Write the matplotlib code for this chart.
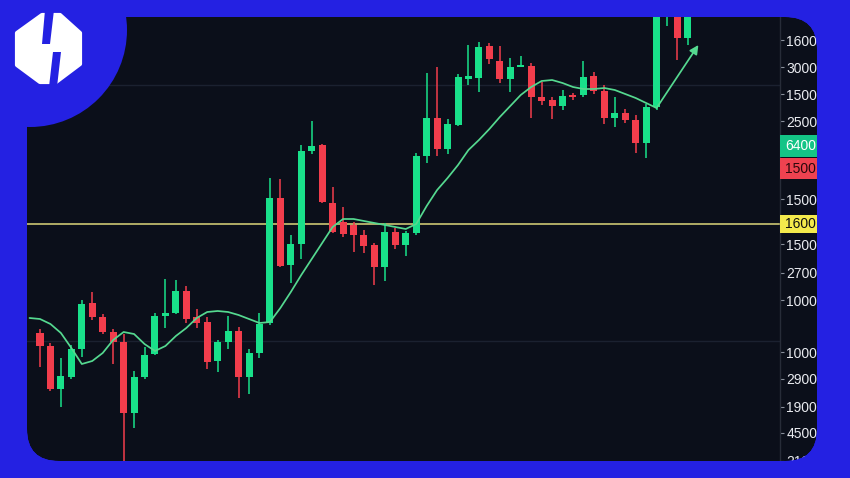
import matplotlib
matplotlib.use("Agg")
import matplotlib.pyplot as plt
import matplotlib.transforms as mtransforms
from matplotlib.patches import FancyBboxPatch, Circle, Polygon, Rectangle, PathPatch
from matplotlib.path import Path
import numpy as np

plt.rcParams['font.family'] = ['Liberation Sans', 'DejaVu Sans']

# ---------------- data (price units) ----------------
opens = [147, 134, 91, 103, 131, 177, 163, 148, 138, 67, 103, 126, 164, 167, 189, 163,
         158, 119, 138, 149, 103, 127, 157, 282, 215, 236, 329, 335, 277, 258, 255, 245,
         235, 213, 248, 235, 247, 324, 362, 331, 355, 401, 402, 434, 419, 401, 413, 414,
         383, 380, 374, 385, 385, 404, 389, 362, 367, 360, 337, 373, 467, 520, 442]
highs = [151, 137, 122, 135, 180, 188, 166, 151, 146, 109, 133, 167, 201, 200, 194, 171,
         163, 140, 164, 153, 131, 167, 302, 301, 245, 335, 359, 336, 293, 273, 258, 250,
         237, 257, 252, 249, 327, 407, 413, 361, 406, 435, 438, 437, 434, 422, 424, 417,
         398, 383, 390, 387, 419, 408, 395, 383, 371, 365, 376, 540, 540, 540, 540]
lows = [113, 89, 73, 101, 123, 160, 146, 116, 15, 52, 101, 125, 152, 166, 157, 152,
        111, 108, 131, 82, 86, 122, 155, 213, 197, 221, 326, 277, 247, 243, 228, 227,
        195, 199, 231, 224, 245, 317, 324, 326, 354, 395, 388, 416, 397, 388, 413, 362,
        375, 361, 370, 380, 383, 386, 356, 353, 357, 327, 322, 370, 454, 420, 435]
closes = [134, 91, 104, 131, 176, 163, 148, 138, 67, 103, 125, 164, 167, 189, 161, 157,
          118, 138, 149, 103, 127, 156, 282, 214, 236, 329, 334, 278, 248, 246, 245, 234,
          213, 248, 235, 247, 324, 362, 331, 356, 403, 404, 433, 421, 401, 413, 415, 383,
          379, 374, 384, 383, 403, 389, 362, 367, 360, 337, 373, 500, 520, 442, 520]

# moving average, starting one bar before the first candle
ma_start = -1
ma_values = [162, 161, 156, 147, 132, 116, 119, 127, 140, 148, 146, 136, 129, 134, 144,
             152, 162, 168, 169, 168, 165, 161, 157, 158, 172, 188, 205, 221, 237, 253,
             261, 261, 259, 257, 255, 253, 251, 256, 274, 290, 302, 315, 330, 340, 351,
             363, 374, 385, 393, 399, 400, 397, 393, 391, 391, 392, 390, 386, 382, 377, 372]
arrow_end = (63.0, 435)

tick_values = [440, 413, 386, 359, 281, 236, 207, 180, 128, 101, 73, 47, 19]
tick_labels = ['1600', '3000', '1500', '2500', '1500', '1500', '2700', '1000',
               '1000', '2900', '1900', '4500', '2100']

marker_values = [334, 311.5, 256]
marker_labels = ['6400', '1500', '1600']
level_value = 256
grid_values = [395, 139]

# ---------------- style ----------------
BLUE = '#2421e2'
PANEL = '#0b0f1a'
GREEN = '#19e08a'
RED = '#f23d4c'
MA_COLOR = '#55d990'
W, H = 850, 478

fig = plt.figure(figsize=(8.5, 4.78), dpi=100)
fig.patch.set_facecolor(BLUE)

bg = fig.add_axes([0, 0, 1, 1], zorder=0)
bg.set_xlim(0, W)
bg.set_ylim(H, 0)
bg.axis('off')
R = 32
panel = FancyBboxPatch((27 + R, 17 + R), 817 - 27 - 2 * R, 461 - 17 - 2 * R,
                       boxstyle=f'round,pad={R}', fc=PANEL, ec='none')
bg.add_patch(panel)

# chart axes
ax = fig.add_axes([27 / W, (H - 461) / H, (780 - 27) / W, (461 - 17) / H], zorder=1)
ax.set_facecolor('none')
ax.set_xlim(-1.244, 70.81)
ax.set_ylim(19, 463)
for s in ['left', 'top', 'bottom']:
    ax.spines[s].set_visible(False)
ax.spines['right'].set_color('#272c38')
ax.spines['right'].set_linewidth(1.0)
ax.set_xticks([])

for g in grid_values:
    ax.axhline(g, color='#1b2130', lw=1.0, zorder=0.5)

idx = np.arange(len(opens))
o = np.array(opens, float)
c = np.array(closes, float)
colors = [GREEN if cc >= oo else RED for oo, cc in zip(o, c)]
bottoms = np.minimum(o, c)
heights = np.maximum(np.abs(c - o), 1.5)
ax.vlines(idx, lows, highs, colors=colors, lw=1.1, zorder=2)
ax.bar(idx, heights, bottom=bottoms, width=0.67, color=colors, zorder=3, linewidth=0)

ma_x = np.arange(len(ma_values)) + ma_start
ax.plot(ma_x, ma_values, color=MA_COLOR, lw=1.25, zorder=4, solid_capstyle='round')
ax.annotate('', xy=arrow_end, xytext=(ma_x[-1], ma_values[-1]),
            arrowprops=dict(arrowstyle='-|>', color=MA_COLOR, lw=1.25,
                            mutation_scale=13, shrinkA=0, shrinkB=0), zorder=4)

ax.axhline(level_value, color='#dcd67a', lw=1.1, zorder=1.5)

ax.yaxis.tick_right()
ax.set_yticks(tick_values)
ax.set_yticklabels(tick_labels)
ax.tick_params(axis='y', direction='out', length=3, width=0.8, color='#8a909c',
               pad=1.5, labelsize=10, labelcolor='#e9ebf0')

trans = mtransforms.blended_transform_factory(ax.transAxes, ax.transData)
box_colors = ['#14c486', '#ee4250', '#f4ea4c']
text_colors = ['#ffffff', '#2a080c', '#111111']
box_heights = [22, 21, 18]
for v, lab, bc, tc, bh in zip(marker_values, marker_labels, box_colors, text_colors, box_heights):
    rect = Rectangle((1.0, v - bh / 2), 50 / 753, bh, transform=trans, fc=bc, ec='none',
                     zorder=5, clip_on=False)
    ax.add_artist(rect)
    ax.text(1.0 + 5 / 753, v, lab, transform=trans, ha='left', va='center',
            color=tc, fontsize=10, zorder=6)

# overlay: blue frame outside the rounded panel, corner badge with logo
ov = fig.add_axes([0, 0, 1, 1], zorder=3)
ov.set_xlim(0, W)
ov.set_ylim(H, 0)
ov.axis('off')
ov.patch.set_alpha(0)

inner = panel.get_path().to_polygons()[0]
outer = np.array([[-5, -5], [W + 5, -5], [W + 5, H + 5], [-5, H + 5], [-5, -5]], float)
area = 0.5 * np.sum(inner[:-1, 0] * inner[1:, 1] - inner[1:, 0] * inner[:-1, 1])
area_o = 0.5 * np.sum(outer[:-1, 0] * outer[1:, 1] - outer[1:, 0] * outer[:-1, 1])
if np.sign(area) == np.sign(area_o):
    inner = inner[::-1]
verts = np.concatenate([outer, inner])
codes = ([Path.MOVETO] + [Path.LINETO] * (len(outer) - 1) +
         [Path.MOVETO] + [Path.LINETO] * (len(inner) - 1))
ov.add_patch(PathPatch(Path(verts, codes), fc=BLUE, ec='none'))

ov.add_patch(Circle((30, 30), 97, fc=BLUE, ec='none'))
hexagon = [(17, 33), (17, 65), (40, 82), (56, 82), (80, 64), (80, 33), (60, 15), (42, 15)]
ov.add_patch(Polygon(hexagon, closed=True, fc='white', ec='white', lw=3, joinstyle='round'))
ov.add_patch(Polygon([(45, 10), (54, 10), (50, 44), (42, 44)], closed=True, fc=BLUE, ec='none'))
ov.add_patch(Polygon([(53, 52), (61, 52), (57, 87), (49, 87)], closed=True, fc=BLUE, ec='none'))

fig.savefig('out.png', dpi=100, facecolor=BLUE)
